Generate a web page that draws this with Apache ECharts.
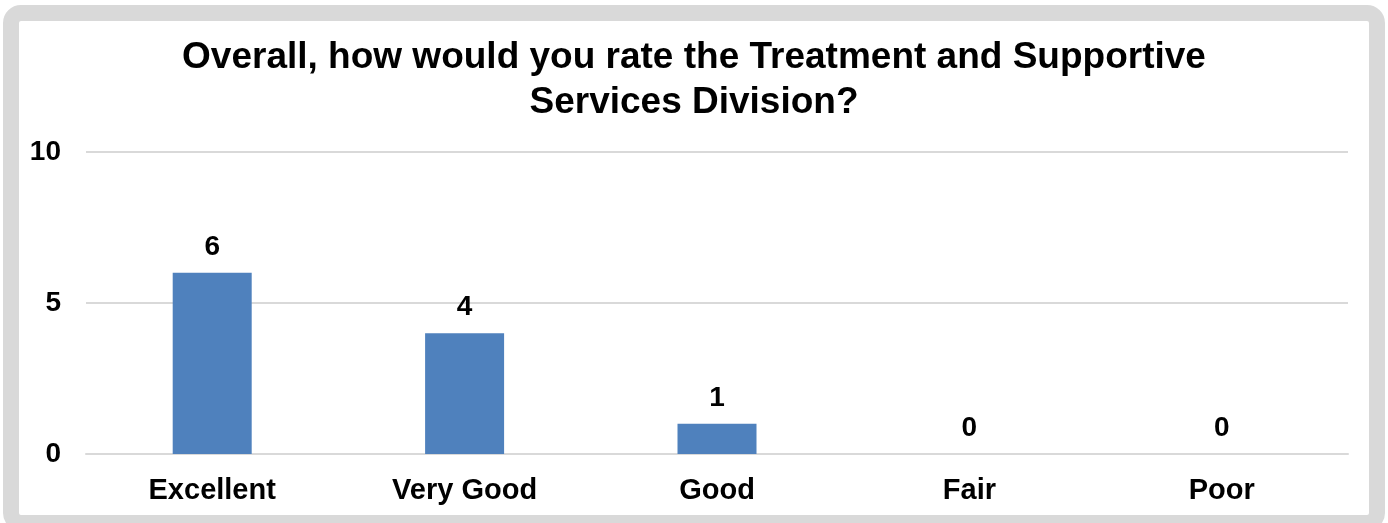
<!DOCTYPE html>
<html>
<head>
<meta charset="utf-8">
<script src="https://cdn.jsdelivr.net/npm/echarts@6/dist/echarts.min.js"></script>
<style>
  html, body { margin: 0; padding: 0; background: #ffffff; }
  #chart { width: 1388px; height: 523px; }
</style>
</head>
<body>
<div id="chart"></div>
<script>
// Survey responses for the division rating question
const titleText = 'Overall, how would you rate the Treatment and Supportive\nServices Division?';
const categories = ['Excellent', 'Very Good', 'Good', 'Fair', 'Poor'];
const responses = [6, 4, 1, 0, 0];
const yTicks = [0, 5, 10];

const font = '"Liberation Sans", Arial, sans-serif';
const chart = echarts.init(document.getElementById('chart'), null, { renderer: 'canvas' });

chart.setOption({
  backgroundColor: '#ffffff',
  animation: false,
  title: {
    text: titleText,
    left: 'center',
    top: 30,
    textStyle: {
      fontFamily: font,
      fontWeight: 'bold',
      fontSize: 37,
      lineHeight: 45,
      color: '#000000'
    }
  },
  graphic: [{
    type: 'rect',
    silent: true,
    shape: { x: 11, y: 13, width: 1366, height: 510, r: 10 },
    style: { fill: 'none', stroke: '#d9d9d9', lineWidth: 16 }
  }],
  grid: { left: 86, right: 40, top: 152, bottom: 69, containLabel: false },
  xAxis: {
    type: 'category',
    data: categories,
    axisLine: { show: true, lineStyle: { color: '#d9d9d9', width: 2 } },
    axisTick: { show: false },
    axisLabel: {
      margin: 22,
      fontFamily: font,
      fontWeight: 'bold',
      fontSize: 29,
      color: '#000000'
    }
  },
  yAxis: {
    type: 'value',
    min: yTicks[0],
    max: yTicks[yTicks.length - 1],
    interval: yTicks[1] - yTicks[0],
    axisLine: { show: false },
    axisTick: { show: false },
    splitLine: { lineStyle: { color: '#d9d9d9', width: 2 } },
    axisLabel: {
      margin: 25,
      fontFamily: font,
      fontWeight: 'bold',
      fontSize: 28,
      color: '#000000'
    }
  },
  series: [{
    type: 'bar',
    data: responses,
    barWidth: 79,
    itemStyle: { color: '#4f81bd' },
    label: {
      show: true,
      position: 'top',
      distance: 12,
      fontFamily: font,
      fontWeight: 'bold',
      fontSize: 28,
      color: '#000000'
    }
  }]
});
</script>
</body>
</html>
